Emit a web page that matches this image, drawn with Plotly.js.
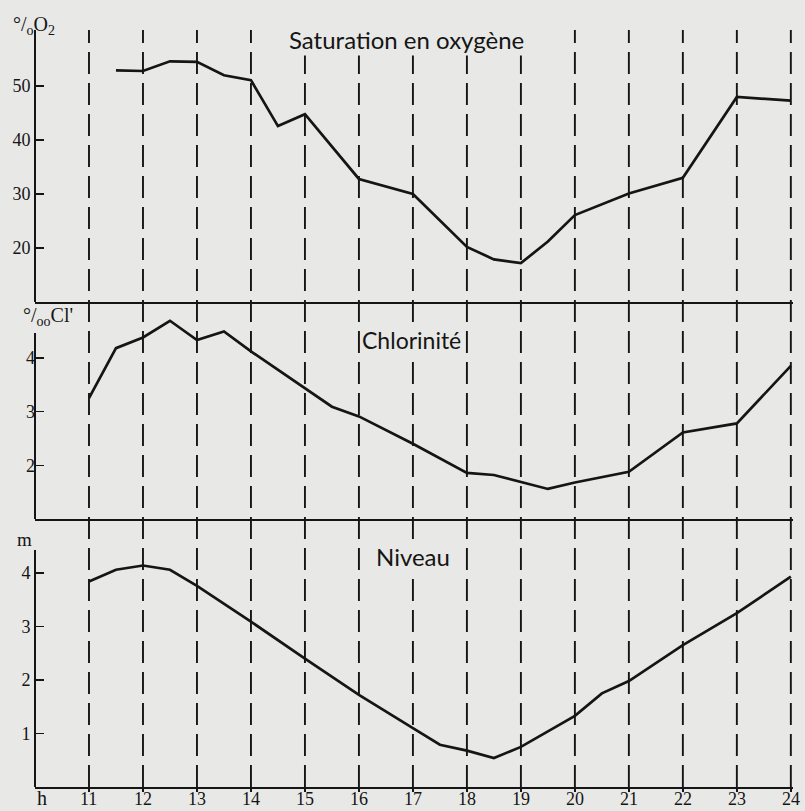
<!DOCTYPE html>
<html>
<head>
<meta charset="utf-8">
<script src="https://cdn.plot.ly/plotly-3.0.1.min.js"></script>
<style>
html,body{margin:0;padding:0;background:#e8e8e6;}
#chart{width:805px;height:811px;}
</style>
</head>
<body>
<div id="chart"></div>
<script>
// Hours (x axis)
const hours = [11,12,13,14,15,16,17,18,19,20,21,22,23,24];
const hourLabels = ["11","12","13","14","15","16","17","18","19","20","21","22","23","24"];

// Saturation en oxygène (%)
const o2Time  = [11.5,12,12.5,13,13.5,14,14.5,15,16,17,18,18.5,19,19.5,20,21,22,23,24];
const o2Value = [52.9,52.8,54.6,54.5,52.0,51.1,42.6,44.8,32.8,30.0,20.2,17.9,17.2,21.2,26.1,30.1,33.0,48.0,47.3];

// Chlorinité (‰)
const clTime  = [11,11.5,12,12.5,13,13.5,14,15,15.5,16,17,18,18.5,19.5,20,21,22,23,24];
const clValue = [3.25,4.18,4.38,4.69,4.33,4.49,4.12,3.43,3.09,2.91,2.40,1.86,1.82,1.56,1.68,1.88,2.61,2.78,3.85];

// Niveau (m)
const lvTime  = [11,11.5,12,12.5,13,14,15,16,17,17.5,18,18.5,19,20,20.5,21,22,23,24];
const lvValue = [3.84,4.06,4.14,4.06,3.76,3.09,2.40,1.72,1.10,0.79,0.68,0.54,0.75,1.33,1.75,1.98,2.65,3.25,3.93];

const o2Ticks = [20,30,40,50];
const clTicks = [2,3,4];
const lvTicks = [1,2,3,4];
const clAxisTop = 4.46;

const ink = "#151515";
const bg = "#e8e8e6";
const serif = "Liberation Serif, serif";
const titleFont = "Lato, sans-serif";

const lineStyle = {color: ink, width: 2.7};
const traces = [
  {x: o2Time, y: o2Value, xaxis: "x", yaxis: "y", mode: "lines", line: lineStyle, hoverinfo: "skip"},
  {x: clTime, y: clValue, xaxis: "x2", yaxis: "y2", mode: "lines", line: lineStyle, hoverinfo: "skip"},
  {x: lvTime, y: lvValue, xaxis: "x3", yaxis: "y3", mode: "lines", line: lineStyle, hoverinfo: "skip"}
];

const xRange = [10, 24.04];
function xAx(anchor, ticks) {
  return {
    anchor: anchor, range: xRange, showgrid: false, zeroline: false,
    showline: true, linecolor: ink, linewidth: 2,
    tickvals: hours, showticklabels: false,
    ticks: ticks ? "outside" : "", ticklen: 3, tickwidth: 2, tickcolor: ink,
    fixedrange: true
  };
}
function yAx(domain, range, ticks, line) {
  return {
    domain: domain, range: range, anchor: "free", position: 0,
    showgrid: false, zeroline: false, showline: line, linecolor: ink, linewidth: 2,
    tickvals: ticks, ticks: "inside", ticklen: 8, tickwidth: 1.5, tickcolor: ink,
    tickfont: {family: serif, size: 18, color: ink}, fixedrange: true
  };
}

const shapes = hours.map(h => ({
  type: "line", xref: "x3", yref: "paper", x0: h, x1: h, y0: 0, y1: 1,
  line: {color: ink, width: 1.9, dash: "22px,9px"}, layer: "below"
}));
// left axis line of the chlorinity panel (the curve rises above it)
shapes.push({type: "line", xref: "paper", yref: "y2", x0: 0, x1: 0, y0: 1, y1: clAxisTop,
  line: {color: ink, width: 2}});

function ann(text, xref, yref, x, y, size, family, extra) {
  return Object.assign({
    text: text, xref: xref, yref: yref, x: x, y: y, showarrow: false,
    font: {family: family, size: size, color: ink}, xanchor: "center", yanchor: "middle"
  }, extra || {});
}

const annotations = [
  ann("Saturation en oxygène", "x", "y", 16.89, 58.7, 24, titleFont, {bgcolor: bg, borderpad: 1}),
  ann("Chlorinité", "x2", "y2", 16.97, 4.33, 23, titleFont, {bgcolor: bg, borderpad: 1}),
  ann("Niveau", "x3", "y3", 17.0, 4.30, 24, titleFont, {bgcolor: bg, borderpad: 1}),
  ann("°/<sub>o</sub>O<sub>2</sub>", "paper", "paper", -0.0013, 1.0053, 20, serif),
  ann("°/<sub>oo</sub>Cl'", "paper", "paper", 0.0172, 0.6213, 20, serif),
  ann("m", "paper", "paper", -0.0132, 0.3263, 19, serif),
  ann("h", "paper", "paper", 0.0092, -0.0317, 20, serif, {yanchor: "bottom"})
];
// hour tick labels under the bottom axis
hours.forEach((h, i) => {
  annotations.push(ann(hourLabels[i], "x3", "paper", h, -0.0317, 18, serif, {yanchor: "bottom"}));
});

const layout = {
  width: 805, height: 811,
  margin: {l: 35, r: 12, t: 30, b: 24},
  paper_bgcolor: bg, plot_bgcolor: bg,
  showlegend: false,
  xaxis: xAx("y", false),
  xaxis2: xAx("y2", false),
  xaxis3: xAx("y3", true),
  yaxis: yAx([0.6407, 1.0], [10, 60.4], o2Ticks, true),
  yaxis2: yAx([0.354, 0.6301], [1, 4.89], clTicks, false),
  yaxis3: yAx([0, 0.3131], [0, 4.43], lvTicks, true),
  shapes: shapes,
  annotations: annotations
};

Plotly.newPlot("chart", traces, layout, {displayModeBar: false, staticPlot: true});
</script>
</body>
</html>
